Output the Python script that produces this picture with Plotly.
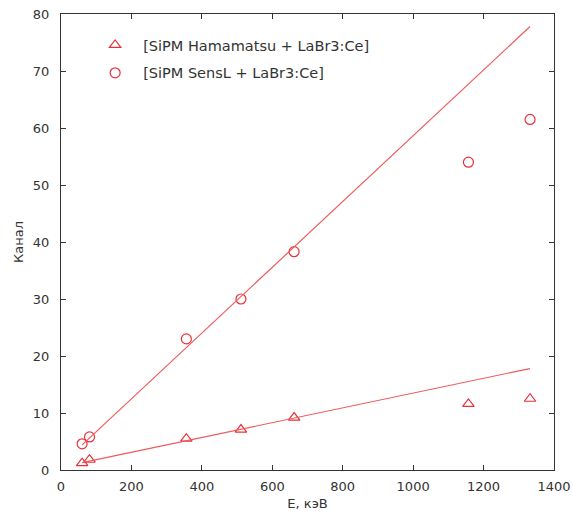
import plotly.graph_objects as go

# Data
energy = [60, 81, 356, 511, 662, 1157, 1332]
hamamatsu = [1.2, 1.8, 5.5, 7.1, 9.2, 11.6, 12.5]
sensl = [4.6, 5.8, 23.0, 30.0, 38.3, 54.0, 61.5]

fit_x = [60, 1332]
fit_hamamatsu = [1.3, 17.8]
fit_sensl = [4.4, 77.8]

x_ticks = [0, 200, 400, 600, 800, 1000, 1200, 1400]
y_ticks = [0, 10, 20, 30, 40, 50, 60, 70, 80]

red = "#e8303a"
line_red = "#f05a5a"
font_family = "DejaVu Sans, Liberation Sans, Arial, sans-serif"

fig = go.Figure()
fig.add_trace(go.Scatter(x=energy, y=hamamatsu, mode="markers",
                         name="[SiPM Hamamatsu + LaBr3:Ce]", legendgroup="a",
                         marker=dict(symbol="triangle-up-open", size=10, color=red,
                                     line=dict(width=1.2, color=red))))
fig.add_trace(go.Scatter(x=energy, y=sensl, mode="markers",
                         name="[SiPM SensL + LaBr3:Ce]", legendgroup="b",
                         marker=dict(symbol="circle-open", size=10, color=red,
                                     line=dict(width=1.2, color=red))))
fig.add_trace(go.Scatter(x=fit_x, y=fit_hamamatsu, mode="lines", showlegend=False,
                         line=dict(color=line_red, width=1.2)))
fig.add_trace(go.Scatter(x=fit_x, y=fit_sensl, mode="lines", showlegend=False,
                         line=dict(color=line_red, width=1.2)))

axis_common = dict(showline=True, linecolor="#333", linewidth=1, mirror="ticks",
                   ticks="inside", ticklen=5, tickcolor="#333", showgrid=False,
                   zeroline=False, automargin=False,
                   tickfont=dict(size=13, color="#333", family=font_family))

fig.update_layout(
    width=573, height=518,
    margin=dict(l=61, r=19, t=14, b=48),
    paper_bgcolor="white", plot_bgcolor="white",
    font=dict(family=font_family, size=13, color="#333"),
    xaxis=dict(range=[0, 1400], tickvals=x_ticks, ticklabelstandoff=4,
               title=dict(text="E, кэВ", standoff=6, font=dict(size=13)), **axis_common),
    yaxis=dict(range=[0, 80], tickvals=y_ticks, ticklabelstandoff=8,
               title=dict(text="Канал", standoff=6, font=dict(size=13)), **axis_common),
    legend=dict(x=0.053, y=0.967, xanchor="left", yanchor="top",
                bgcolor="rgba(0,0,0,0)", borderwidth=0, itemwidth=46,
                font=dict(size=14.5, color="#333", family=font_family), tracegroupgap=6,
                traceorder="grouped"),
)

fig.write_html("out.html")
